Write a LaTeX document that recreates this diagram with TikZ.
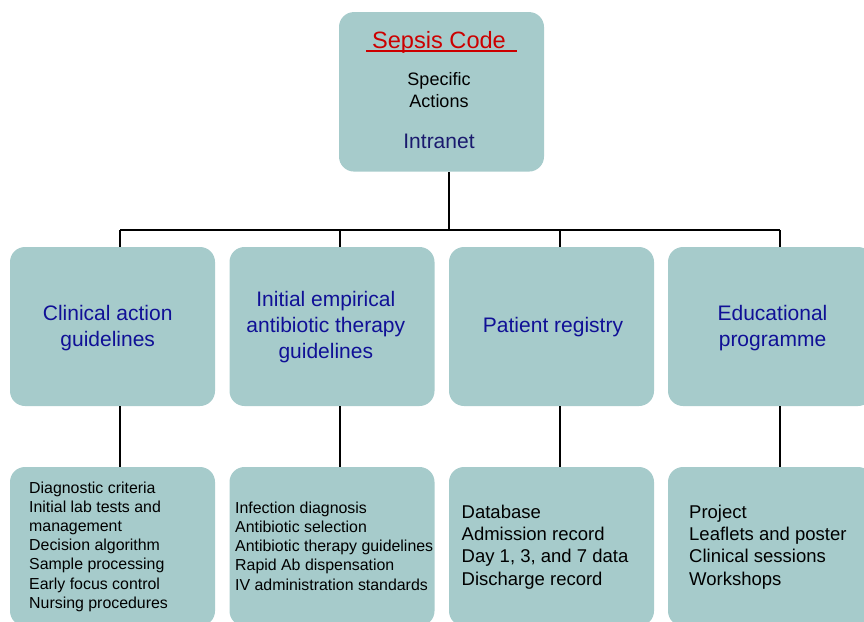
\documentclass[tikz,border=0pt]{standalone}
\usepackage{fontspec}
\setmainfont{Liberation Sans}
\definecolor{boxfill}{RGB}{166,203,203}
\definecolor{headblue}{RGB}{16,16,150}
\definecolor{navy}{RGB}{26,26,110}
\definecolor{codered}{RGB}{204,0,0}
\begin{document}
\begin{tikzpicture}[x=1pt,y=-1pt,
  box/.style={draw=none, fill=boxfill, rounded corners=15pt, minimum width=205pt, minimum height=159pt, inner sep=0pt},
  head/.style={anchor=base, text=headblue, inner sep=0pt, font=\fontsize{21}{26}\selectfont},
  smalltxt/.style={anchor=base west, font=\fontsize{15.9}{19.2}\selectfont, inner sep=0pt},
  midtxt/.style={anchor=base west, font=\fontsize{18.5}{22.3}\selectfont, inner sep=0pt},
  link/.style={line width=2pt, black}]
\useasboundingbox (0,0) rectangle (864,621);
\clip (0,0) rectangle (864,621);

% top box
\node[box, minimum height=159.5pt] (top) at (441.5,91.8) {};
\node[anchor=base, text=codered, font=\fontsize{23.6}{26}\selectfont, inner sep=0pt] (sc) at (439,48) {Sepsis Code};
\draw[codered, line width=1.2pt] (366,51) -- (517,51);
\node[anchor=base, font=\fontsize{18}{22}\selectfont, inner sep=0pt] (sa) at (439,85) {\begin{tabular}[t]{@{}c@{}}Specific\\Actions\end{tabular}};
\node[anchor=base, text=navy, font=\fontsize{21}{24}\selectfont, inner sep=0pt] (it) at (439,148) {Intranet};

% middle boxes
\node[box] (m1) at (112.5,326.5) {};
\node[box] (m2) at (332,326.5) {};
\node[box] (m3) at (551.5,326.5) {};
\node[box] (m4) at (770.5,326.5) {};
\node[head] (h1) at (107.7,320) {\begin{tabular}[t]{@{}c@{}}Clinical action\\guidelines\end{tabular}};
\node[head] (h2) at (325.8,306.7) {\begin{tabular}[t]{@{}c@{}}Initial empirical\\antibiotic therapy\\guidelines\end{tabular}};
\node[head] (h3) at (553,332.7) {Patient registry};
\node[head] (h4) at (772.5,320) {\begin{tabular}[t]{@{}c@{}}Educational\\programme\end{tabular}};

% bottom boxes
\node[box] (b1) at (112.5,546.5) {};
\node[box] (b2) at (332,546.5) {};
\node[box] (b3) at (551.5,546.5) {};
\node[box] (b4) at (770.5,546.5) {};

\node[smalltxt] (t1) at (29,493) {\begin{tabular}[t]{@{}l@{}}Diagnostic criteria\\Initial lab tests and\\management\\Decision algorithm\\Sample processing\\Early focus control\\Nursing procedures\end{tabular}};
\node[smalltxt] (t2) at (235,513.3) {\begin{tabular}[t]{@{}l@{}}Infection diagnosis\\Antibiotic selection\\Antibiotic therapy guidelines\\Rapid Ab dispensation\\IV administration standards\end{tabular}};
\node[midtxt] (t3) at (461.5,518.3) {\begin{tabular}[t]{@{}l@{}}Database\\Admission record\\Day 1, 3, and 7 data\\Discharge record\end{tabular}};
\node[midtxt] (t4) at (689,518.3) {\begin{tabular}[t]{@{}l@{}}Project\\Leaflets and poster\\Clinical sessions\\Workshops\end{tabular}};

% connectors
\coordinate (jT) at (449,230);
\coordinate (j1) at (120,230);
\coordinate (j2) at (340,230);
\coordinate (j3) at (560,230);
\coordinate (j4) at (780,230);
\draw[link] (top.south -| jT) -- (jT);
\draw[link] (j1) -- (j4);
\draw[link] (j1) -- (j1 |- m1.north);
\draw[link] (j2) -- (j2 |- m2.north);
\draw[link] (j3) -- (j3 |- m3.north);
\draw[link] (j4) -- (j4 |- m4.north);
\draw[link] (j1 |- m1.south) -- (j1 |- b1.north);
\draw[link] (j2 |- m2.south) -- (j2 |- b2.north);
\draw[link] (j3 |- m3.south) -- (j3 |- b3.north);
\draw[link] (j4 |- m4.south) -- (j4 |- b4.north);
\end{tikzpicture}
\end{document}
